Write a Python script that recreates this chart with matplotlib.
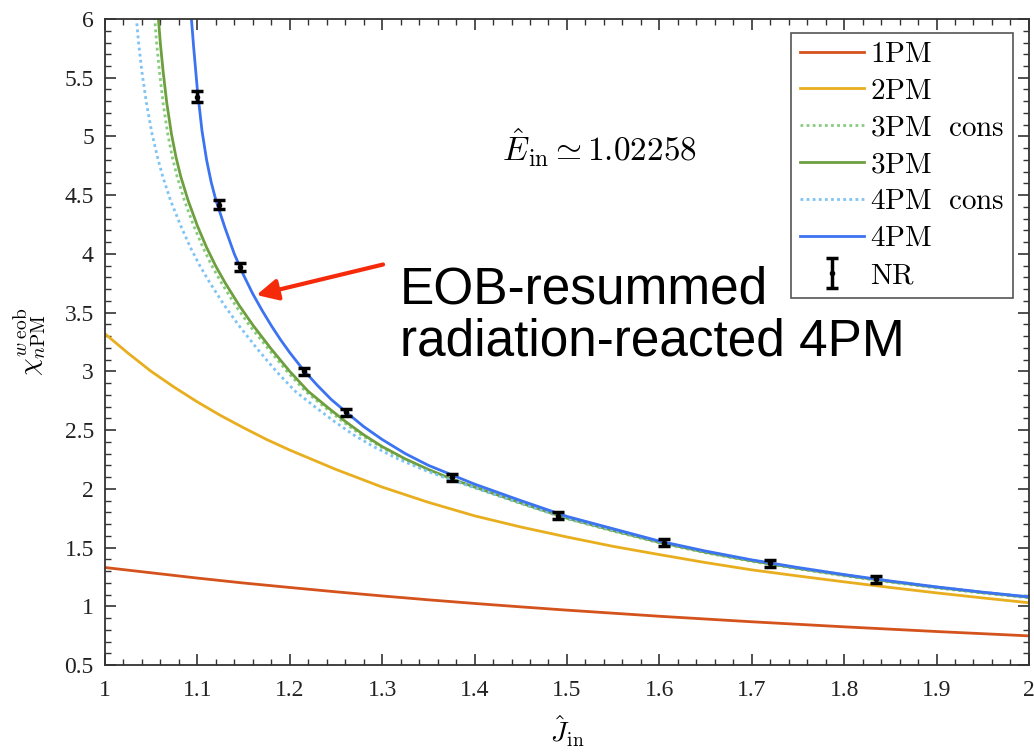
import numpy as np
import matplotlib
matplotlib.use('Agg')
import matplotlib.pyplot as plt

# curve values (each curve has its own J grid)
J_1pm = [1.0, 1.05, 1.1, 1.15, 1.2, 1.25, 1.3, 1.35, 1.4, 1.45, 1.5, 1.6, 1.7, 1.8, 1.9, 2.0]
chi_1pm = [1.33, 1.285, 1.24, 1.198, 1.16, 1.123, 1.088, 1.055, 1.024, 0.995, 0.967,
           0.915, 0.868, 0.825, 0.785, 0.748]

J_2pm = [1.0, 1.025, 1.05, 1.075, 1.1, 1.125, 1.15, 1.175, 1.2, 1.25, 1.3, 1.35, 1.4,
         1.45, 1.5, 1.55, 1.6, 1.65, 1.7, 1.75, 1.8, 1.85, 1.9, 1.95, 2.0]
chi_2pm = [3.32, 3.155, 3.00, 2.865, 2.74, 2.625, 2.52, 2.42, 2.33, 2.165, 2.015, 1.885,
           1.77, 1.675, 1.59, 1.51, 1.44, 1.372, 1.31, 1.258, 1.208, 1.16, 1.114, 1.071,
           1.03]

J_3pm_cons = [1.051, 1.053, 1.056, 1.059, 1.063, 1.068, 1.073, 1.078, 1.086, 1.096, 1.106,
              1.116, 1.126, 1.141, 1.156, 1.177, 1.197, 1.217, 1.237, 1.257, 1.277, 1.298,
              1.323, 1.348, 1.373, 1.398, 1.45, 1.5, 1.55, 1.6, 1.65, 1.7, 1.75, 1.8, 1.85,
              1.9, 1.95, 2.0]
chi_3pm_cons = [6.33, 6.09, 5.79, 5.55, 5.28, 5.02, 4.82, 4.66, 4.455, 4.24, 4.055,
                3.895, 3.755, 3.565, 3.395, 3.19, 3.0, 2.83, 2.70, 2.575, 2.46, 2.36,
                2.255, 2.165, 2.085, 2.015, 1.875, 1.745, 1.64, 1.54, 1.455, 1.382, 1.318,
                1.259, 1.205, 1.156, 1.112, 1.072]

J_3pm = [1.055, 1.057, 1.06, 1.063, 1.067, 1.072, 1.077, 1.082, 1.09, 1.1, 1.11, 1.12,
         1.13, 1.145, 1.16, 1.18, 1.2, 1.22, 1.24, 1.26, 1.28, 1.3, 1.325, 1.35, 1.375,
         1.4, 1.45, 1.5, 1.55, 1.6, 1.65, 1.7, 1.75, 1.8, 1.85, 1.9, 1.95, 2.0]
chi_3pm = [6.33, 6.09, 5.79, 5.55, 5.28, 5.02, 4.82, 4.66, 4.455, 4.24, 4.055, 3.895,
           3.755, 3.565, 3.395, 3.19, 3.0, 2.83, 2.70, 2.575, 2.46, 2.36, 2.255, 2.165,
           2.085, 2.015, 1.88, 1.75, 1.645, 1.545, 1.46, 1.387, 1.323, 1.264, 1.21,
           1.161, 1.117, 1.077]

J_4pm_cons = [1.031, 1.033, 1.0365, 1.040, 1.045, 1.051, 1.057, 1.0625, 1.071, 1.082,
              1.0925, 1.103, 1.1135, 1.129, 1.1445, 1.165, 1.1855, 1.206, 1.227, 1.248,
              1.269, 1.2905, 1.317, 1.344, 1.371, 1.398, 1.45, 1.5, 1.55, 1.6, 1.65, 1.7,
              1.75, 1.8, 1.85, 1.9, 1.95, 2.0]
chi_4pm_cons = [6.33, 6.09, 5.79, 5.55, 5.28, 5.02, 4.82, 4.66, 4.455, 4.24,
                4.055, 3.895, 3.755, 3.565, 3.395, 3.19, 3.0, 2.83, 2.70, 2.575,
                2.46, 2.36, 2.255, 2.165, 2.085, 2.015, 1.88, 1.75, 1.648, 1.55, 1.466,
                1.392, 1.329, 1.268, 1.214, 1.165, 1.12, 1.08]

J_4pm = [1.093, 1.096, 1.1, 1.105, 1.11, 1.115, 1.12, 1.13, 1.14, 1.15, 1.16, 1.17, 1.18,
         1.19, 1.2, 1.215, 1.23, 1.245, 1.26, 1.28, 1.3, 1.325, 1.35, 1.375, 1.4, 1.45,
         1.5, 1.55, 1.6, 1.65, 1.7, 1.75, 1.8, 1.85, 1.9, 1.95, 2.0]
chi_4pm = [6.06, 5.76, 5.40, 5.05, 4.80, 4.61, 4.46, 4.22, 4.00, 3.82, 3.66, 3.52, 3.39,
           3.27, 3.16, 3.01, 2.88, 2.76, 2.66, 2.53, 2.42, 2.30, 2.20, 2.12, 2.04, 1.90,
           1.765, 1.66, 1.555, 1.47, 1.395, 1.33, 1.27, 1.215, 1.165, 1.12, 1.08]

# numerical relativity points
J_nr = [1.100, 1.123, 1.146, 1.215, 1.261, 1.376, 1.490, 1.605, 1.720, 1.834]
chi_nr = [5.34, 4.42, 3.89, 3.00, 2.65, 2.10, 1.77, 1.54, 1.365, 1.23]
err_nr = [0.05, 0.04, 0.035, 0.03, 0.03, 0.03, 0.03, 0.03, 0.03, 0.03]

x_ticks = [1.0, 1.1, 1.2, 1.3, 1.4, 1.5, 1.6, 1.7, 1.8, 1.9, 2.0]
x_labels = ['1', '1.1', '1.2', '1.3', '1.4', '1.5', '1.6', '1.7', '1.8', '1.9', '2']
y_ticks = [0.5, 1, 1.5, 2, 2.5, 3, 3.5, 4, 4.5, 5, 5.5, 6]
y_labels = ['0.5', '1', '1.5', '2', '2.5', '3', '3.5', '4', '4.5', '5', '5.5', '6']

plt.rcParams['mathtext.fontset'] = 'cm'
plt.rcParams['font.family'] = ['Liberation Serif', 'DejaVu Serif']

fig = plt.figure(figsize=(10.34, 7.52), dpi=100)
ax = fig.add_axes([0.1015, 0.1157, 0.8936, 0.8590])

ax.plot(J_1pm, chi_1pm, color='#D4521C', lw=2.0, label=r'$\mathrm{1PM}$')
ax.plot(J_2pm, chi_2pm, color='#E8AE1E', lw=2.0, label=r'$\mathrm{2PM}$')
ax.plot(J_3pm_cons, chi_3pm_cons, color='#86CC7E', lw=2.0, ls=(0, (1, 1.2)),
        label=r'$\mathrm{3PM\ \ cons}$')
ax.plot(J_3pm, chi_3pm, color='#6E9F3E', lw=2.0, label=r'$\mathrm{3PM}$')
ax.plot(J_4pm_cons, chi_4pm_cons, color='#7DC3F5', lw=2.0, ls=(0, (1, 1.2)),
        label=r'$\mathrm{4PM\ \ cons}$')
ax.plot(J_4pm, chi_4pm, color='#3B73F0', lw=2.0, label=r'$\mathrm{4PM}$')
ax.errorbar(J_nr, chi_nr, yerr=err_nr, fmt='.', color='black', ms=6,
            elinewidth=2.5, capsize=4.5, capthick=2.5, label=r'$\mathrm{NR}$')

ax.set_xlim(1, 2)
ax.set_ylim(0.5, 6)
ax.set_xticks(x_ticks)
ax.set_xticklabels(x_labels)
ax.set_yticks(y_ticks)
ax.set_yticklabels(y_labels)
ax.set_xticks(np.arange(1, 2.001, 0.02), minor=True)
ax.set_yticks(np.arange(0.5, 6.001, 0.1), minor=True)
ax.tick_params(which='both', direction='in', top=True, right=True, colors='#333333')
ax.tick_params(which='major', length=8, width=1.2, labelsize=17, labelcolor='#222222')
ax.tick_params(which='minor', length=4, width=1.0)
ax.tick_params(axis='x', pad=11)
ax.tick_params(axis='y', pad=8)
for sp in ax.spines.values():
    sp.set_color('#333333')
    sp.set_linewidth(1.3)

ax.set_xlabel(r'$\hat{J}_{\rm in}$', fontsize=20, labelpad=9)
ax.set_ylabel(r'$\chi^{w\;\mathrm{eob}}_{n\mathrm{PM}}$', fontsize=20, labelpad=12)

leg = ax.legend(loc='upper right', bbox_to_anchor=(0.983, 0.979), borderaxespad=0,
                fontsize=21, fancybox=False, edgecolor='#555555', framealpha=1,
                handlelength=2.2, handletextpad=0.2, labelspacing=0.36,
                borderpad=0.3)
leg.get_frame().set_linewidth(1.2)

ax.text(1.535, 4.9, r'$\hat{E}_{\rm in} \simeq 1.02258$', fontsize=24,
        ha='center', va='center')

ax.annotate('', xy=(1.164, 3.65), xytext=(1.301, 3.91),
            arrowprops=dict(arrowstyle='-|>', color='#F52A0A', lw=3,
                            mutation_scale=32, shrinkA=0, shrinkB=0))
fig.text(400 / 1034, 1 - 304 / 752, 'EOB-resummed', fontsize=37,
         family='Liberation Sans', ha='left', va='baseline')
fig.text(400 / 1034, 1 - 356 / 752, 'radiation-reacted 4PM', fontsize=37,
         family='Liberation Sans', ha='left', va='baseline')

fig.savefig('out.png', dpi=100)
